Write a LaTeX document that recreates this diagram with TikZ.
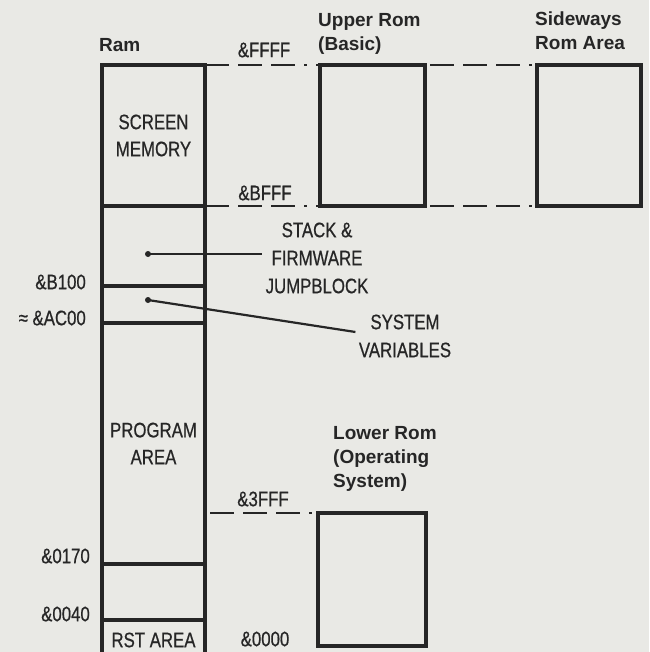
\documentclass[tikz,border=0pt]{standalone}
\usepackage{fontspec}
\setmainfont{Liberation Sans}
\newfontfamily\condfont[FakeStretch=0.8, FakeBold=0.6]{Liberation Sans}
\usetikzlibrary{positioning}
\definecolor{paper}{RGB}{233,233,229}
\definecolor{ink}{RGB}{38,38,38}

\begin{document}
\begin{tikzpicture}[
        x=1pt, y=-1pt,
        every node/.style={text=ink},
        region/.style={rectangle, draw=ink, line width=4pt, outer sep=0pt,
                       minimum width=103pt, align=center,
                       font=\condfont\fontsize{21}{27}\selectfont},
        rombox/.style={rectangle, draw=ink, line width=4pt, outer sep=0pt,
                       minimum width=105pt, minimum height=141pt},
        addr/.style={inner sep=0pt, font=\condfont\fontsize{21}{27}\selectfont},
        heading/.style={inner sep=0pt, anchor=west, align=left,
                        font=\bfseries\fontsize{19}{24}\selectfont},
        note/.style={align=center, font=\condfont\fontsize{21}{28}\selectfont},
        blob/.style={circle, fill=ink, inner sep=0pt, minimum size=6pt},
        link/.style={draw=ink, line width=2.8pt,
                     dash pattern=on 24pt off 9pt on 24pt off 9pt on 24pt off 9pt on 3pt off 9pt},
        pointer/.style={draw=ink, line width=2.2pt},
    ]
        \useasboundingbox (0,0) rectangle (649,652);
        \clip (0,0) rectangle (649,652);
        \fill[paper] (0,0) rectangle (649,652);

        % Ram column
        \node[region, minimum height=141pt] (screen) at (153.5,135.5) {SCREEN\\MEMORY};
        \node[region, minimum height=80pt, below=0pt of screen] (stack) {};
        \node[region, minimum height=37pt, below=0pt of stack] (sysvar) {};
        \node[region, minimum height=241pt, below=0pt of sysvar] (prog) {PROGRAM\\AREA};
        \node[region, minimum height=56pt, below=0pt of prog] (free) {};
        \node[region, minimum height=40pt, below=0pt of free] (rst) {RST AREA};

        % Rom boxes
        \node[rombox] (upper) at (372.5,135.5) {};
        \node[rombox, minimum width=104pt] (sideways) at (589,135.5) {};
        \node[rombox, minimum width=108pt, minimum height=133pt] (lower) at (372,579.5) {};

        % Headings
        \node[heading] (ramtitle) at (99,45) {Ram};
        \node[heading] (uppertitle) at (318,34) {Upper Rom\\(Basic)};
        \node[heading] (sidetitle) at (535,31) {Sideways\\Rom Area};
        \node[heading] (lowertitle) at (333,459) {Lower Rom\\(Operating\\System)};

        % Addresses
        \node[addr] (hffff) at (264,50) {\&FFFF};
        \node[addr] (hbfff) at (265,193) {\&BFFF};
        \node[addr] (h3fff) at (263,499) {\&3FFF};
        \node[addr] (h0000) at (265,639) {\&0000};
        \node[addr, anchor=east] (hb100) at (86,282) {\&B100};
        \node[addr, anchor=east] (hac00) at (86,318) {≈ \&AC00};
        \node[addr, anchor=east] (h0170) at (90,556) {\&0170};
        \node[addr, anchor=east] (h0040) at (90,614) {\&0040};

        % Notes
        \node[note] (stacklbl) at (317,258) {STACK \&\\FIRMWARE\\JUMPBLOCK};
        \node[note] (syslbl) at (405,336) {SYSTEM\\VARIABLES};
        \node[blob] (stackpin) at (148,254) {};
        \node[blob] (syspin) at (148,300) {};
        \draw[pointer] (stackpin.center) -- ([yshift=4pt]stacklbl.west);
        \draw[pointer] (syspin.center) -- ([yshift=4pt]syslbl.west);

        % Dashed links
        \draw[link] (screen.north east) -- (upper.north west);
        \draw[link, shorten <=5pt] (upper.north east) -- (sideways.north west);
        \draw[link] (screen.south east) -- (upper.south west);
        \draw[link, shorten <=5pt] (upper.south east) -- (sideways.south west);
        \draw[link, shorten <=5pt] (lower.north west -| prog.east) -- (lower.north west);
    \end{tikzpicture}
\end{document}
